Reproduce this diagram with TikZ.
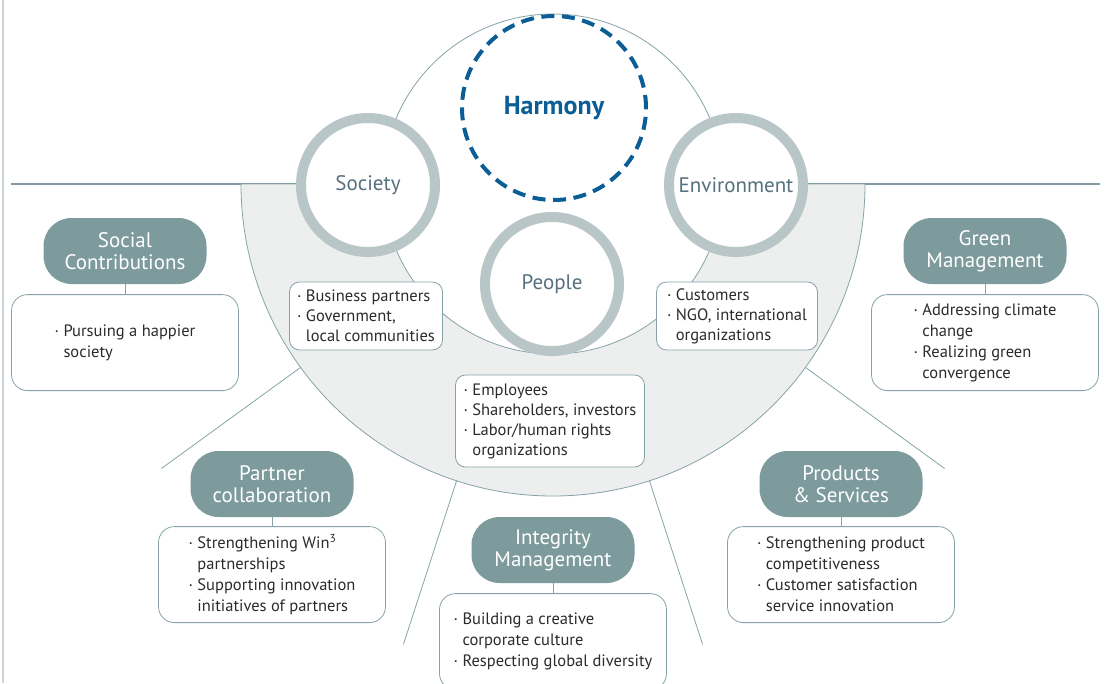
\documentclass[tikz,border=0pt]{standalone}
\usepackage{fontspec}
\setmainfont{PT Sans}
\usetikzlibrary{positioning,calc}

\definecolor{hdrgrey}{HTML}{7D9A9D}
\definecolor{ringgrey}{HTML}{B9C6C7}
\definecolor{discgrey}{HTML}{EDEFEE}
\definecolor{edge}{HTML}{86A3A8}
\definecolor{rule}{HTML}{7F9CA1}
\definecolor{harmblue}{HTML}{0B5D96}
\definecolor{labelgrey}{HTML}{55707E}
\definecolor{textdark}{HTML}{2B2B2B}
\definecolor{sidegrey}{HTML}{C9D3D8}

\newcommand{\bul}{·\ }
\newcommand{\gap}{\phantom{·\ }}

\tikzset{
  head/.style={fill=hdrgrey, rounded corners=28pt, minimum width=163pt, minimum height=66pt,
    text=white, align=center, font=\fontsize{21}{22}\selectfont},
  aimbox/.style={draw=edge, line width=0.8pt, fill=white, rounded corners=16pt,
    minimum width=227pt, minimum height=96pt, align=left, text=textdark,
    font=\fontsize{16.5}{21}\selectfont},
  holder/.style={draw=edge, line width=0.8pt, fill=white, rounded corners=10pt,
    align=left, text=textdark, font=\fontsize{16.5}{20}\selectfont},
  ring/.style={circle, draw=ringgrey, line width=10pt, fill=white, minimum size=134pt,
    text=labelgrey, font=\fontsize{21}{22}\selectfont},
  link/.style={draw=edge, line width=0.8pt},
}

\begin{document}
\begin{tikzpicture}[x=1pt, y=-1pt]
\useasboundingbox (0,0) rectangle (1106,683);

% frame lines
\draw[sidegrey, line width=2pt] (3,0) -- (3,683);
\draw[rule, line width=1.5pt] (11,184) -- (1100,184);

% half disc and the circle of stakeholders
\coordinate (c) at (553,184);
\draw[edge, fill=discgrey, line width=0.8pt] (241,184) arc[start angle=180, end angle=0, radius=312] -- cycle;
\foreach \a in {36,72,108,144}
  \draw[link] ($(c)+(\a:312)$) -- ($(c)+(\a:484)$);
\draw[edge, fill=white, line width=0.8pt] (c) circle[radius=170];

\node (harm) [circle, draw=harmblue, line width=4pt, dash pattern=on 13pt off 7.6pt,
  minimum size=184pt, text=harmblue, font=\bfseries\fontsize{26}{28}\selectfont] at (554,108) {Harmony};

\node (soc) [ring] at (368,185) {Society};
\node (env) [ring] at (736,185) {Environment};
\node (ppl) [ring] at (552,284) {People};

% stakeholder groups
\node (socin) [holder, minimum width=153pt, minimum height=68pt] at (366,316)
  {\bul Business partners\\ \bul Government,\\ \gap local communities};
\node (envin) [holder, minimum width=161pt, minimum height=68pt] at (737,316)
  {\bul Customers\\ \bul NGO, international\\ \gap organizations};
\node (pplin) [holder, minimum width=189pt, minimum height=92pt] at (550,421)
  {\bul Employees\\ \bul Shareholders, investors\\ \bul Labor/human rights\\ \gap organizations};

% management areas
\node (socialhd) [head] at (125,251) {Social\\Contributions};
\node (socialbox) [aimbox, below=10pt of socialhd] {\bul Pursuing a happier\\ \gap society};
\draw[link] (socialhd) -- (socialbox);

\node (greenhd) [head] at (985,251) {Green\\Management};
\node (greenbox) [aimbox, below=10pt of greenhd]
  {\bul Addressing climate\\ \gap change\\ \bul Realizing green\\ \gap convergence};
\draw[link] (greenhd) -- (greenbox);

\node (partnerhd) [head] at (272,484) {Partner\\collaboration};
\node (partnerbox) [aimbox, below=9pt of partnerhd]
  {\bul Strengthening Win\textsuperscript{3}\\ \gap partnerships\\ \bul Supporting innovation\\ \gap initiatives of partners};
\draw[link] (partnerhd) -- (partnerbox);

\node (integrityhd) [head] at (553,550) {Integrity\\Management};
\node (integritybox) [aimbox, below=10pt of integrityhd]
  {\bul Building a creative\\ \gap corporate culture\\ \bul Respecting global diversity};
\draw[link] (integrityhd) -- (integritybox);

\node (productshd) [head] at (841,484) {Products\\\& Services};
\node (productsbox) [aimbox, below=9pt of productshd]
  {\bul Strengthening product\\ \gap competitiveness\\ \bul Customer satisfaction\\ \gap service innovation};
\draw[link] (productshd) -- (productsbox);
\end{tikzpicture}
\end{document}
